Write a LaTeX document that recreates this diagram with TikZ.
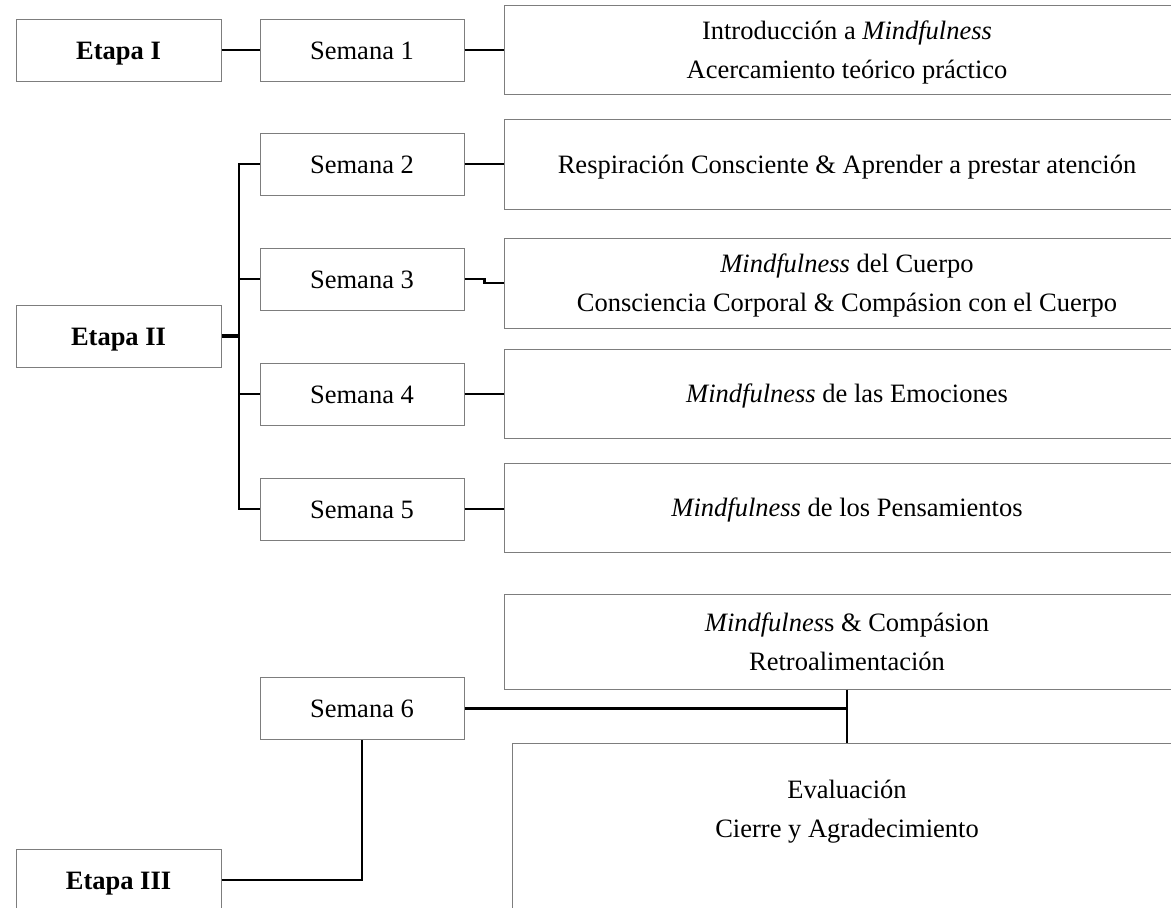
\documentclass[tikz,border=0pt]{standalone}
\usepackage{fontspec}
\setmainfont{Liberation Serif}
\usetikzlibrary{calc}
\definecolor{boxgray}{RGB}{125,125,125}
\begin{document}
\begin{tikzpicture}[x=1pt,y=-1pt,
  box/.style={draw=boxgray, line width=1pt, fill=white, inner sep=0pt, align=center,
    font=\fontsize{26.5}{39}\selectfont, text height=18pt, text depth=0pt},
  twoline/.style={text height=57pt, text depth=0pt},
  etapa/.style={box, minimum width=205pt, minimum height=62pt,
    font=\fontsize{26.5}{39}\selectfont\bfseries},
  semana/.style={box, minimum width=204pt, minimum height=62pt},
  content/.style={box, minimum width=686pt},
  conn/.style={line width=2.2pt, draw=black},
  bus/.style={line width=2.6pt, draw=black},
]
\useasboundingbox (0,0) rectangle (1171,908);
\clip (0,0) rectangle (1171,908);

% Etapas
\node[etapa] (e1) at (118.5,50) {Etapa I};
\node[etapa] (e2) at (118.5,336) {Etapa II};
\node[etapa] (e3) at (118.5,880) {Etapa III};

% Semanas
\node[semana] (s1) at (362,50) {Semana 1};
\node[semana] (s2) at (362,164) {Semana 2};
\node[semana] (s3) at (362,279) {Semana 3};
\node[semana] (s4) at (362,394) {Semana 4};
\node[semana] (s5) at (362,509) {Semana 5};
\node[semana] (s6) at (362,708.5) {Semana 6};

% Contents
\node[content, twoline, minimum height=89pt] (c1) at (847,49.5) {Introducción a \textit{Mindfulness}\\Acercamiento teórico práctico};
\node[content, minimum height=90pt] (c2) at (847,164) {Respiración Consciente \& Aprender a prestar atención};
\node[content, twoline, minimum height=90pt] (c3) at (847,283) {\textit{Mindfulness} del Cuerpo\\Consciencia Corporal \& Compásion con el Cuerpo};
\node[content, minimum height=89pt] (c4) at (847,393.5) {\textit{Mindfulness} de las Emociones};
\node[content, minimum height=89pt] (c5) at (847,507.5) {\textit{Mindfulness} de los Pensamientos};
\node[content, twoline, minimum height=95pt] (c6a) at (847,641.5) {\textit{Mindfulnes}s \& Compásion\\Retroalimentación};
\node[box, minimum width=670pt, minimum height=200pt, anchor=north] (c6b) at (847,743) {};
\node[align=center, inner sep=0pt, font=\fontsize{26.5}{39}\selectfont, twoline] (c6bt) at ($(c6b.north)+(0,66)$) {Evaluación\\Cierre y Agradecimiento};

% Connectors
\draw[conn] (e1.east) -- (s1.west);
\draw[conn] (s1.east) -- (s1.east -| c1.west);
\draw[conn] (s2.east) -- (s2.east -| c2.west);
\draw[conn] (s3.east) -- ++(20,0) |- (c3.west);
\draw[conn] (s4.east) -- (s4.east -| c4.west);
\draw[conn] (s5.east) -- (s5.east -| c5.west);

\coordinate (bx) at (239,0);
\draw[bus, line cap=rect] (s2.west -| bx) -- (s5.west -| bx);
\draw[conn] (s2.west -| bx) -- (s2.west);
\draw[conn] (s3.west -| bx) -- (s3.west);
\draw[conn] (s4.west -| bx) -- (s4.west);
\draw[conn] (s5.west -| bx) -- (s5.west);
\draw[line width=3.5pt] (e2.east) -- (e2.east -| bx);

\draw[conn] (e3.east) -| (s6.south);
\draw[conn] (s6.east) -- (s6.east -| c6a.south);
\draw[conn] (c6a.south) -- (c6b.north);
\end{tikzpicture}
\end{document}
